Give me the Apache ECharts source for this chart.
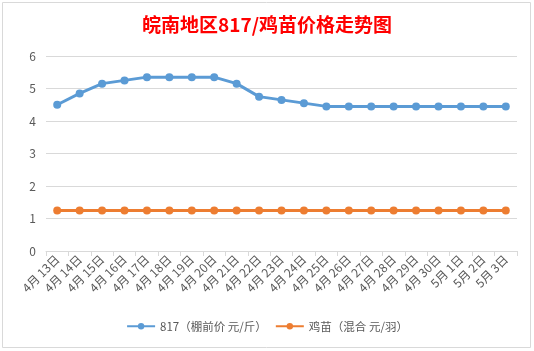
<!DOCTYPE html>
<html>
<head>
<meta charset="utf-8">
<script src="https://cdn.jsdelivr.net/npm/echarts@6/dist/echarts.min.js"></script>
<style>
  html, body { margin: 0; padding: 0; background: #fff; }
  #main { width: 534px; height: 351px; }
</style>
</head>
<body>
<div id="main"></div>
<script>
var dates = ['4月 13日', '4月 14日', '4月 15日', '4月 16日', '4月 17日', '4月 18日', '4月 19日',
  '4月 20日', '4月 21日', '4月 22日', '4月 23日', '4月 24日', '4月 25日', '4月 26日',
  '4月 27日', '4月 28日', '4月 29日', '4月 30日', '5月 1日', '5月 2日', '5月 3日'];
var price817 = [4.5, 4.85, 5.15, 5.25, 5.35, 5.35, 5.35, 5.35, 5.15, 4.75, 4.65,
  4.55, 4.45, 4.45, 4.45, 4.45, 4.45, 4.45, 4.45, 4.45, 4.45];
var chick = [1.25, 1.25, 1.25, 1.25, 1.25, 1.25, 1.25, 1.25, 1.25, 1.25, 1.25,
  1.25, 1.25, 1.25, 1.25, 1.25, 1.25, 1.25, 1.25, 1.25, 1.25];

(function () {
  var myChart = echarts.init(document.getElementById('main'));
  var font = '"Noto Sans CJK SC", "Microsoft YaHei", sans-serif';

  var option = {
    animation: false,
    textStyle: { fontFamily: font },
    // 图表外框
    graphic: [{
      type: 'rect',
      shape: { x: 2.5, y: 2.5, width: 528, height: 345 },
      style: { fill: null, stroke: '#d9d9d9', lineWidth: 1 },
      silent: true
    }],
    title: {
      text: '皖南地区817/鸡苗价格走势图',
      left: 'center',
      top: 10,
      textStyle: { color: '#ff0000', fontSize: 19, fontWeight: 'bold', fontFamily: font }
    },
    legend: {
      bottom: 14,
      left: 'center',
      itemWidth: 28,
      itemHeight: 8,
      itemGap: 8,
      textStyle: { color: '#595959', fontSize: 11.5 },
      data: ['817（棚前价 元/斤）', '鸡苗（混合 元/羽）']
    },
    grid: { left: 46, right: 17, top: 56, bottom: 100 },
    xAxis: {
      type: 'category',
      data: dates,
      boundaryGap: true,
      axisLine: { lineStyle: { color: '#d9d9d9' } },
      axisTick: { show: true, alignWithLabel: false, lineStyle: { color: '#d9d9d9' } },
      axisLabel: { rotate: 45, interval: 0, color: '#595959', fontSize: 12, margin: 6 }
    },
    yAxis: {
      type: 'value',
      min: 0,
      max: 6,
      interval: 1,
      axisLine: { show: false },
      axisTick: { show: false },
      axisLabel: { color: '#595959', fontSize: 12, margin: 10 },
      splitLine: { lineStyle: { color: '#d9d9d9' } }
    },
    series: [
      {
        name: '817（棚前价 元/斤）',
        type: 'line',
        data: price817,
        symbol: 'circle',
        symbolSize: 8,
        lineStyle: { width: 3, color: '#5b9bd5' },
        itemStyle: { color: '#5b9bd5' }
      },
      {
        name: '鸡苗（混合 元/羽）',
        type: 'line',
        data: chick,
        symbol: 'circle',
        symbolSize: 8,
        lineStyle: { width: 3, color: '#ed7d31' },
        itemStyle: { color: '#ed7d31' }
      }
    ]
  };
  myChart.setOption(option);
})();
</script>
</body>
</html>
